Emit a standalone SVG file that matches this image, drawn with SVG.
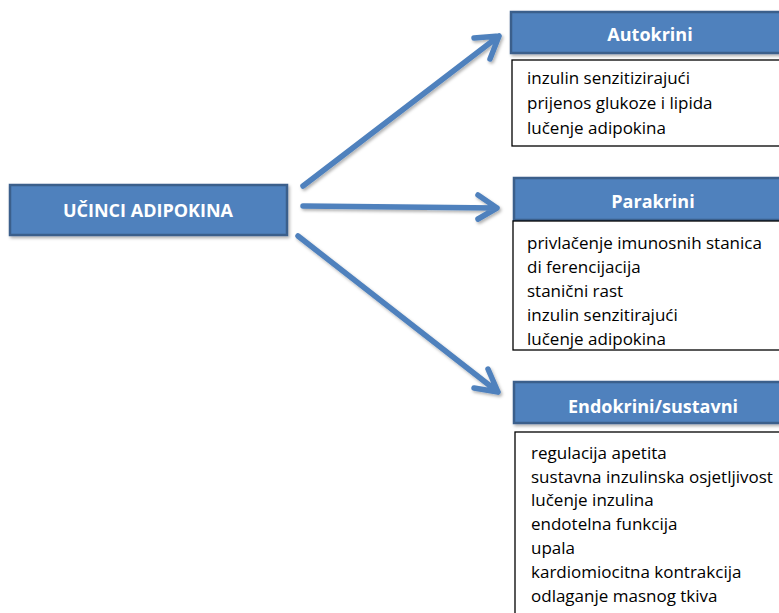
<svg xmlns="http://www.w3.org/2000/svg" width="779" height="613" viewBox="0 0 779 613">
<defs>
<style>
.hdr{fill:#4F81BD;stroke:#3A5F8B;stroke-width:2.5;filter:url(#sh)}
.ht{font-family:"Open Sans",Lato,sans-serif;font-weight:bold;font-size:18px;fill:#fff;text-anchor:middle}
.box{fill:#fff;stroke:#000;stroke-width:1.3}
.bt{font-family:"Open Sans",Lato,sans-serif;font-size:17px;fill:#000}
.con{fill:none;stroke:#4F81BD;stroke-width:5.5;stroke-linecap:round;stroke-linejoin:round;filter:url(#sh)}
</style>
<filter id="sh" x="-10%" y="-20%" width="130%" height="150%">
<feDropShadow dx="1.5" dy="2" stdDeviation="1.5" flood-color="#000" flood-opacity="0.3"/>
</filter>
</defs>
<g id="connectors">
<path class="con" d="M303,186 L499,36 M474,38 L499,36 L490,59"/>
<path class="con" d="M303,206 L497,208 M478,195 L497,208 L478,219"/>
<path class="con" d="M298,236 L498,392 M488,369 L498,392 L474,388"/>
</g>
<g id="main">
<rect class="hdr" x="10" y="185" width="277" height="50"/>
<text class="ht" x="148" y="217">UČINCI ADIPOKINA</text>
</g>
<g id="autokrini">
<rect class="hdr" x="511" y="12" width="275" height="41"/>
<text class="ht" x="650" y="41">Autokrini</text>
<rect class="box" x="512" y="60" width="275" height="86"/>
<text class="bt" x="527" y="84">inzulin senzitizirajući</text>
<text class="bt" x="527" y="109">prijenos glukoze i lipida</text>
<text class="bt" x="527" y="134">lučenje adipokina</text>
</g>
<g id="parakrini">
<rect class="hdr" x="514" y="178" width="272" height="42"/>
<text class="ht" x="653" y="208">Parakrini</text>
<rect class="box" x="513" y="221" width="274" height="129"/>
<text class="bt" x="527" y="249">privlačenje imunosnih stanica</text>
<text class="bt" x="527" y="273">di ferencijacija</text>
<text class="bt" x="527" y="297">stanični rast</text>
<text class="bt" x="527" y="321">inzulin senzitirajući</text>
<text class="bt" x="527" y="345">lučenje adipokina</text>
</g>
<g id="endokrini">
<rect class="hdr" x="514" y="382" width="272" height="41"/>
<text class="ht" x="653" y="413">Endokrini/sustavni</text>
<rect class="box" x="515" y="432" width="272" height="190"/>
<text class="bt" x="531" y="459">regulacija apetita</text>
<text class="bt" x="531" y="483">sustavna inzulinska osjetljivost</text>
<text class="bt" x="531" y="506">lučenje inzulina</text>
<text class="bt" x="531" y="530">endotelna funkcija</text>
<text class="bt" x="531" y="554">upala</text>
<text class="bt" x="531" y="578">kardiomiocitna kontrakcija</text>
<text class="bt" x="531" y="602">odlaganje masnog tkiva</text>
</g>
</svg>
